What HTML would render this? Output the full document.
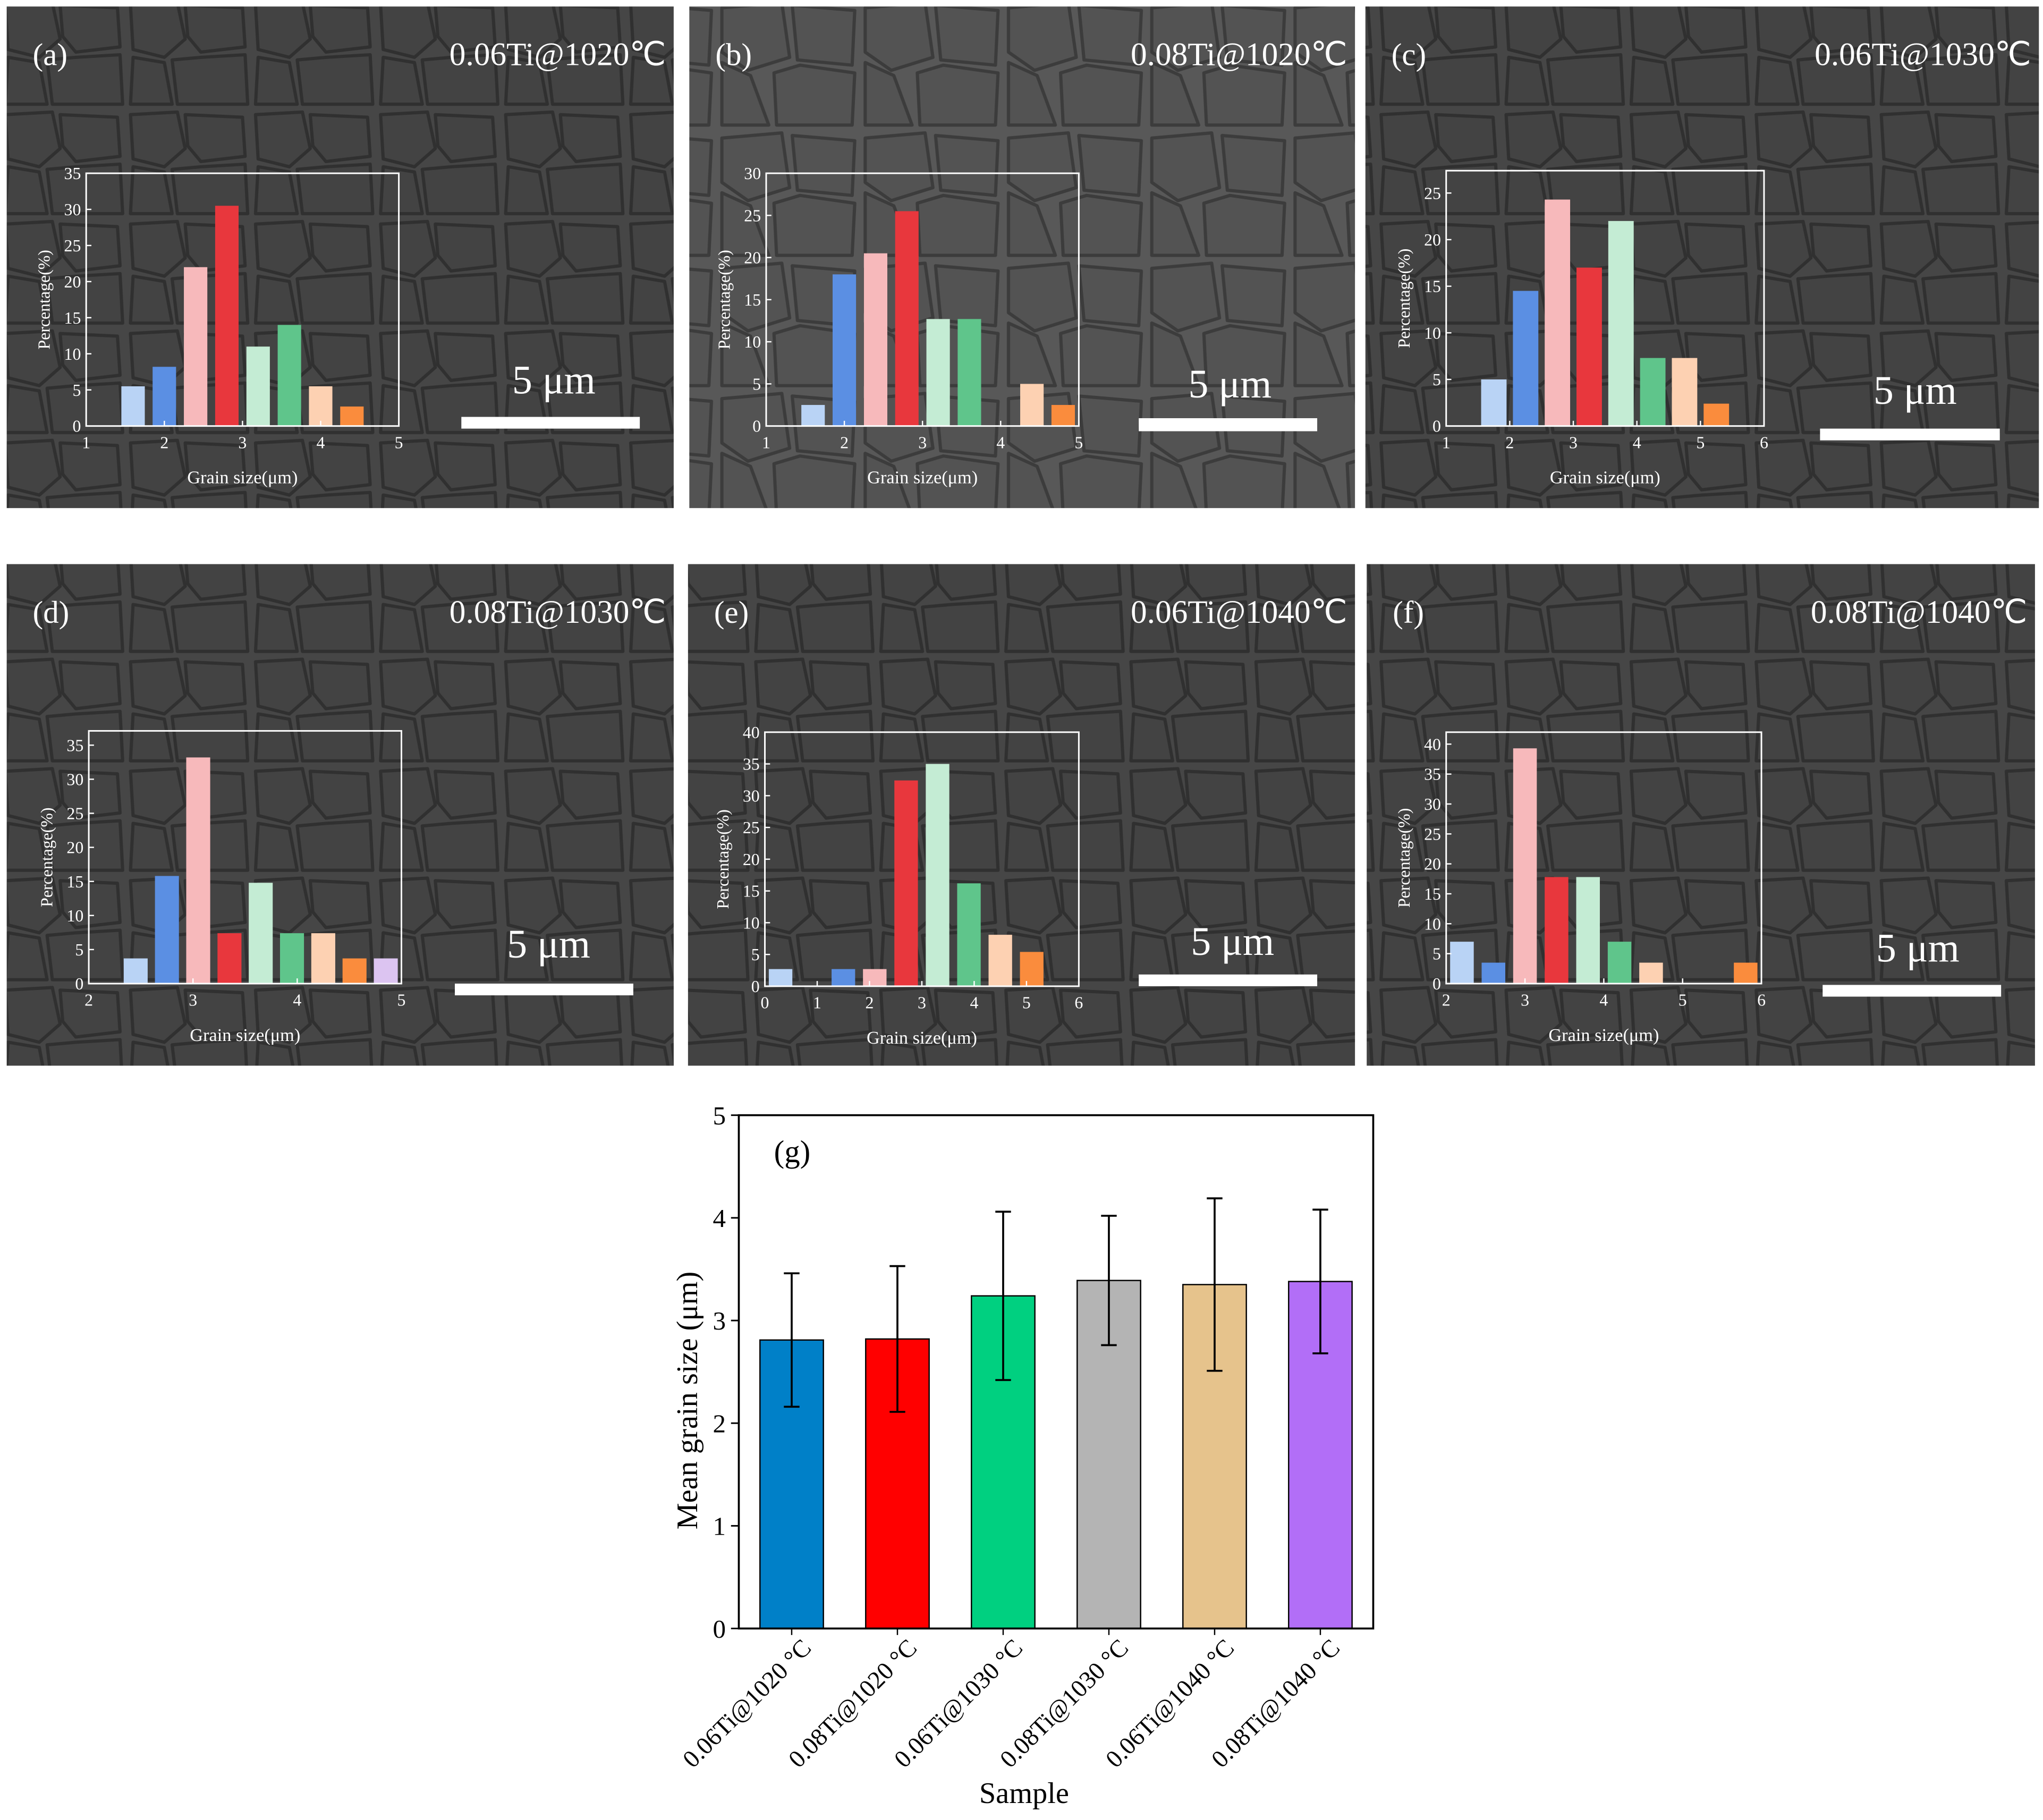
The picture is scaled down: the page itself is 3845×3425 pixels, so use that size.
<!DOCTYPE html>
<html><head><meta charset="utf-8"><style>
html,body{margin:0;padding:0;background:#fff}
svg{display:block;font-family:"Liberation Serif",serif}
</style></head><body>
<svg id="fig" width="3845" height="3425" viewBox="0 0 1568 1397" xmlns="http://www.w3.org/2000/svg">
<defs>
<pattern id="grainsA" width="96" height="84" patternUnits="userSpaceOnUse">
<rect width="96" height="84" fill="#464646"/>
<g fill="#434343" stroke="#303030" stroke-width="2.5" stroke-linejoin="round">
<polygon points="4,4 40,2 46,30 30,44 6,38"/>
<polygon points="46,4 90,6 92,36 58,40 48,28"/>
<polygon points="6,44 30,48 36,80 4,80"/>
<polygon points="36,46 58,44 92,42 94,80 40,80"/>
</g></pattern>
<pattern id="grainsB" width="110" height="100" patternUnits="userSpaceOnUse">
<rect width="110" height="100" fill="#585858"/>
<g fill="#535353" stroke="#3c3c3c" stroke-width="2.5" stroke-linejoin="round">
<polygon points="4,6 50,2 56,44 24,54 4,40"/>
<polygon points="58,4 106,8 104,50 62,46"/>
<polygon points="4,48 26,58 40,96 4,96"/>
<polygon points="44,56 64,50 106,56 104,96 46,96"/>
</g></pattern>
</defs>
<g id="panels"></g>
<g id="mainChart"></g>
</svg>
<script>
// ---------- inset histogram data ----------
const panelLabels = ["(a)","(b)","(c)","(d)","(e)","(f)"];
const panelTitles = ["0.06Ti@1020℃","0.08Ti@1020℃","0.06Ti@1030℃","0.08Ti@1030℃","0.06Ti@1040℃","0.08Ti@1040℃"];
const histCentersA = [1.6,2.0,2.4,2.8,3.2,3.6,4.0,4.4];
const histValuesA  = [5.5,8.2,22,30.5,11,14,5.5,2.7];
const histCentersB = [1.6,2.0,2.4,2.8,3.2,3.6,4.4,4.8];
const histValuesB  = [2.5,18,20.5,25.5,12.7,12.7,5,2.5];
const histCentersC = [1.75,2.25,2.75,3.25,3.75,4.25,4.75,5.25];
const histValuesC  = [5,14.5,24.3,17,22,7.3,7.3,2.4];
const histCentersD = [2.45,2.75,3.05,3.35,3.65,3.95,4.25,4.55,4.85];
const histValuesD  = [3.7,15.8,33.2,7.4,14.8,7.4,7.4,3.7,3.7];
const histCentersE = [0.3,1.5,2.1,2.7,3.3,3.9,4.5,5.1];
const histValuesE  = [2.7,2.7,2.7,32.4,35,16.2,8.1,5.4];
const histCentersF = [2.2,2.6,3.0,3.4,3.8,4.2,4.6,5.8];
const histValuesF  = [7,3.5,39.3,17.8,17.8,7,3.5,3.5];
const xTicksA=[1,2,3,4,5], yTicksA=[0,5,10,15,20,25,30,35];
const xTicksB=[1,2,3,4,5], yTicksB=[0,5,10,15,20,25,30];
const xTicksC=[1,2,3,4,5,6], yTicksC=[0,5,10,15,20,25];
const xTicksD=[2,3,4,5], yTicksD=[0,5,10,15,20,25,30,35];
const xTicksE=[0,1,2,3,4,5,6], yTicksE=[0,5,10,15,20,25,30,35,40];
const xTicksF=[2,3,4,5,6], yTicksF=[0,5,10,15,20,25,30,35,40];
// ---------- main chart data ----------
const samples = ["0.06Ti@1020 °C","0.08Ti@1020 °C","0.06Ti@1030 °C","0.08Ti@1030 °C","0.06Ti@1040 °C","0.08Ti@1040 °C"];
const meanSize = [2.81,2.82,3.24,3.39,3.35,3.38];
const errSize  = [0.65,0.71,0.82,0.63,0.84,0.70];
const mainYTicks = [0,1,2,3,4,5];

const NS="http://www.w3.org/2000/svg";
function mk(tag,attrs,parent,txt){const e=document.createElementNS(NS,tag);for(const k in attrs)e.setAttribute(k,attrs[k]);if(txt!==undefined)e.textContent=txt;parent.appendChild(e);return e;}

const C={lb:"#b9d3f5",bl:"#5b8fe3",pk:"#f7b9bb",rd:"#e8373d",lg:"#c4ecd4",gr:"#5fc58b",pe:"#fdd1b2",or:"#fa8c3d",lv:"#dcc4f1"};
const panels=[
 {x:5,y:5,w:512,h:385,bg:"grainsA",box:[66,133,306,327],xr:[1,5],ymax:35,bw:0.3,xc:histCentersA,v:histValuesA,xt:xTicksA,yt:yTicksA,col:[C.lb,C.bl,C.pk,C.rd,C.lg,C.gr,C.pe,C.or],sb:[354,320,491,329],st:[425,302]},
 {x:529,y:5,w:511,h:385,bg:"grainsB",box:[588,133,828,327],xr:[1,5],ymax:30,bw:0.3,xc:histCentersB,v:histValuesB,xt:xTicksB,yt:yTicksB,col:[C.lb,C.bl,C.pk,C.rd,C.lg,C.gr,C.pe,C.or],sb:[874,321,1011,331],st:[944,305]},
 {x:1048,y:5,w:517,h:385,bg:"grainsA",box:[1110,131,1354,327],xr:[1,6],ymax:27.4,bw:0.4,xc:histCentersC,v:histValuesC,xt:xTicksC,yt:yTicksC,col:[C.lb,C.bl,C.pk,C.rd,C.lg,C.gr,C.pe,C.or],sb:[1397,329,1535,338],st:[1470,310]},
 {x:5,y:433,w:512,h:385,bg:"grainsA",box:[68,561,308,755],xr:[2,5],ymax:37.1,bw:0.23,xc:histCentersD,v:histValuesD,xt:xTicksD,yt:yTicksD,col:[C.lb,C.bl,C.pk,C.rd,C.lg,C.gr,C.pe,C.or,C.lv],sb:[349,755,486,764],st:[421,735]},
 {x:528,y:433,w:512,h:385,bg:"grainsA",box:[587,562,828,757],xr:[0,6],ymax:40,bw:0.45,xc:histCentersE,v:histValuesE,xt:xTicksE,yt:yTicksE,col:[C.lb,C.bl,C.pk,C.rd,C.lg,C.gr,C.pe,C.or],sb:[874,748,1011,757],st:[946,733]},
 {x:1049,y:433,w:513,h:385,bg:"grainsA",box:[1110,562,1352,755],xr:[2,6],ymax:42,bw:0.3,xc:histCentersF,v:histValuesF,xt:xTicksF,yt:yTicksF,col:[C.lb,C.bl,C.pk,C.rd,C.lg,C.gr,C.pe,C.or],sb:[1399,756,1536,765],st:[1472,738]}
];
const root=document.getElementById('panels');
panels.forEach((p,i)=>{
 const g=mk('g',{},root);
 
 
 mk('rect',{x:p.x,y:p.y,width:p.w,height:p.h,fill:"url(#"+p.bg+")"},g);
 const lb=mk('text',{x:p.x+20,y:p.y+45,fill:"#fff","font-size":24},g,panelLabels[i]);
 
 
 const tt=mk('text',{x:p.x+p.w-6,y:p.y+45,fill:"#fff","font-size":25,"text-anchor":"end"},g,panelTitles[i]);
 
 
 const [x0,y0,x1,y1]=p.box;
 const sx=v=>x0+(v-p.xr[0])/(p.xr[1]-p.xr[0])*(x1-x0);
 const sy=v=>y1-v/p.ymax*(y1-y0);
 const hg=mk('g',{},g);
 
 
 p.v.forEach((v,j)=>{
  const bw=sx(p.xc[j]+p.bw/2)-sx(p.xc[j]-p.bw/2);
  const r=mk('rect',{x:sx(p.xc[j])-bw/2,y:sy(v),width:bw,height:y1-sy(v),fill:p.col[j]},hg);
  
  
 });
 const fr=mk('rect',{x:x0,y:y0,width:x1-x0,height:y1-y0,fill:"none",stroke:"#fff","stroke-width":1.2},hg);
 
 
 p.yt.forEach(t=>{
  mk('line',{x1:x0,x2:x0+4,y1:sy(t),y2:sy(t),stroke:"#fff","stroke-width":1},hg);
  const e=mk('text',{x:x0-4,y:sy(t)+4.5,fill:"#fff","font-size":13,"text-anchor":"end"},hg,t);
  
  
 });
 p.xt.forEach(t=>{
  mk('line',{x1:sx(t),x2:sx(t),y1:y1,y2:y1-4,stroke:"#fff","stroke-width":1},hg);
  const e=mk('text',{x:sx(t),y:y1+17,fill:"#fff","font-size":13,"text-anchor":"middle"},hg,t);
  
  
 });
 const yl=mk('text',{x:0,y:0,fill:"#fff","font-size":13,"text-anchor":"middle",transform:`translate(${x0-28},${(y0+y1)/2}) rotate(-90)`},hg,"Percentage(%)");
 
 
 const xl=mk('text',{x:(x0+x1)/2,y:y1+44,fill:"#fff","font-size":14,"text-anchor":"middle"},hg,"Grain size(μm)");
 
 
 const sb=mk('rect',{x:p.sb[0],y:p.sb[1],width:p.sb[2]-p.sb[0],height:p.sb[3]-p.sb[1],fill:"#fff"},g);
 
 
 const st=mk('text',{x:p.st[0],y:p.st[1],fill:"#fff","font-size":31,"text-anchor":"middle"},g,"5 μm");
 
 
});

// main chart
const M=document.getElementById('mainChart');
const mx0=567,mx1=1054,my0=856,my1=1250;
const band=(mx1-mx0)/samples.length;
const mxs=i=>mx0+band*(i+0.5);
const mys=v=>my1-v/5*(my1-my0);
const barCols=["#0080c8","#ff0000","#00d080","#b4b4b4","#e6c38c","#b26ef7"];
meanSize.forEach((v,i)=>{
 const bw=band*0.6;
 const r=mk('rect',{x:mxs(i)-bw/2,y:mys(v),width:bw,height:my1-mys(v),fill:barCols[i],stroke:"#000","stroke-width":1},M);
 
 
 const hi=mys(v+errSize[i]),lo=mys(v-errSize[i]);
 const eb=mk('path',{d:`M${mxs(i)},${hi}V${lo}M${mxs(i)-6},${hi}H${mxs(i)+6}M${mxs(i)-6},${lo}H${mxs(i)+6}`,stroke:"#000","stroke-width":1.5,fill:"none"},M);
 
 
 mk('line',{x1:mxs(i),x2:mxs(i),y1:my1,y2:my1+5,stroke:"#000","stroke-width":1},M);
 const t=mk('text',{x:0,y:0,"font-size":19,"text-anchor":"end",transform:`translate(${mxs(i)+16},${my1+16}) rotate(-45)`},M,samples[i]);
 
 
});
const mf=mk('rect',{x:mx0,y:my0,width:mx1-mx0,height:my1-my0,fill:"none",stroke:"#000","stroke-width":1.5},M);


mainYTicks.forEach(t=>{
 mk('line',{x1:mx0,x2:mx0-6,y1:mys(t),y2:mys(t),stroke:"#000","stroke-width":1.2},M);
 const e=mk('text',{x:mx0-10,y:mys(t)+7,"font-size":20,"text-anchor":"end"},M,t);
 
 
});
const g1=mk('text',{x:594,y:892,"font-size":24},M,"(g)");


const yt=mk('text',{x:0,y:0,"font-size":23,"text-anchor":"middle",transform:`translate(535,1075) rotate(-90)`},M,"Mean grain size (μm)");


const xt=mk('text',{x:786,y:1384,"font-size":23,"text-anchor":"middle"},M,"Sample");


</script>
</body></html>
